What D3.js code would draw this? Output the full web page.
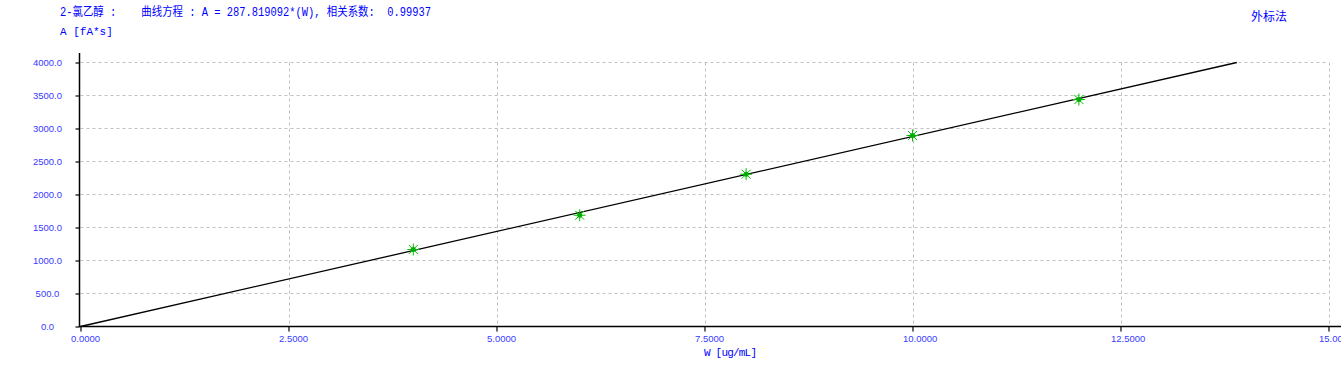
<!DOCTYPE html>
<html>
<head>
<meta charset="utf-8">
<script src="https://cdn.jsdelivr.net/npm/d3@7"></script>
<style>
  body { margin: 0; background: #fff; }
  svg { display: block; }
</style>
</head>
<body>
<script>
// calibration points
const amounts = [4, 6, 8, 10, 12];          // W [ug/mL]
const areas = [1167, 1686, 2308, 2894, 3439]; // A [fA*s]
const slope = 287.819092;
const xTicks = [0, 2.5, 5, 7.5, 10, 12.5, 15];
const yTicks = [0, 500, 1000, 1500, 2000, 2500, 3000, 3500, 4000];

const width = 1341, height = 366;
const blue = '#0000ff';
const mono = '"Liberation Mono", "DejaVu Sans Mono", "Noto Sans CJK SC", monospace';

const svg = d3.select('body').append('svg')
  .attr('width', width)
  .attr('height', height);

const x = d3.scaleLinear().domain([0, 15]).range([80.5, 1328.5]);
const y = d3.scaleLinear().domain([0, 4000]).range([326.5, 62.5]);

// dashed grid
svg.append('g')
  .selectAll('line')
  .data(xTicks.slice(1))
  .join('line')
  .attr('x1', d => Math.round(x(d)) + 0.5)
  .attr('x2', d => Math.round(x(d)) + 0.5)
  .attr('y1', y(4000))
  .attr('y2', y(0))
  .attr('stroke', '#c0c0c0')
  .attr('stroke-dasharray', '3,3');

svg.append('g')
  .selectAll('line')
  .data(yTicks.slice(1))
  .join('line')
  .attr('x1', x(0))
  .attr('x2', x(15))
  .attr('y1', d => y(d))
  .attr('y2', d => y(d))
  .attr('stroke', '#c0c0c0')
  .attr('stroke-dasharray', '3,3');

// Y axis
const yAxis = d3.axisLeft(y).tickValues(yTicks).tickSize(4).tickFormat(d3.format('.1f'));
const gy = svg.append('g')
  .attr('transform', 'translate(79.5,0)')
  .call(yAxis);
gy.select('.domain').remove();
gy.selectAll('.tick line').attr('stroke', '#000').attr('stroke-width', 1.2);
gy.selectAll('.tick text')
  .attr('x', -32)
  .attr('text-anchor', 'middle')
  .attr('fill', '#3a3aff')
  .style('font-family', '"Liberation Sans", Arial, sans-serif')
  .style('font-size', '9.5px');
svg.append('line')
  .attr('x1', 79.5).attr('x2', 79.5)
  .attr('y1', 53).attr('y2', 327)
  .attr('stroke', '#000').attr('stroke-width', 1.5);

// X axis
const xAxis = d3.axisBottom(x).tickValues(xTicks).tickSize(5).tickFormat(d3.format('.4f'));
const gx = svg.append('g')
  .attr('transform', 'translate(0,326.5)')
  .call(xAxis);
gx.select('.domain').remove();
gx.selectAll('.tick line').attr('stroke', '#000').attr('stroke-width', 1.2);
gx.selectAll('.tick text')
  .attr('x', -10)
  .attr('y', 9)
  .attr('dy', '0.71em')
  .attr('text-anchor', 'start')
  .attr('fill', '#3a3aff')
  .style('font-family', '"Liberation Sans", Arial, sans-serif')
  .style('font-size', '9.5px');
svg.append('line')
  .attr('x1', 79).attr('x2', width)
  .attr('y1', 326.5).attr('y2', 326.5)
  .attr('stroke', '#000').attr('stroke-width', 1.5);

// regression line A = slope * W
const xEnd = 4000 / slope;
svg.append('line')
  .attr('x1', x(0)).attr('y1', y(0))
  .attr('x2', x(xEnd)).attr('y2', y(slope * xEnd))
  .attr('stroke', '#000')
  .attr('stroke-width', 1.3);

// asterisk markers
const pts = amounts.map((w, i) => ({w: w, a: areas[i]}));
const marks = svg.append('g')
  .selectAll('g')
  .data(pts)
  .join('g')
  .attr('transform', d => `translate(${x(d.w)},${y(d.a)})`);
const r = 6;
[[-r, 0, r, 0], [0, -r, 0, r], [-r * 0.75, -r * 0.75, r * 0.75, r * 0.75], [-r * 0.75, r * 0.75, r * 0.75, -r * 0.75]]
  .forEach(s => {
    marks.append('line')
      .attr('x1', s[0]).attr('y1', s[1])
      .attr('x2', s[2]).attr('y2', s[3])
      .attr('stroke', '#00c000')
      .attr('stroke-width', 1);
  });
marks.append('circle').attr('r', 2.5).attr('fill', '#00b000');

// texts
svg.append('text')
  .attr('x', 60).attr('y', 16)
  .attr('fill', blue)
  .attr('textLength', 371)
  .attr('lengthAdjust', 'spacingAndGlyphs')
  .style('white-space', 'pre')
  .style('font-family', mono)
  .style('font-size', '12px')
  .text('2-氯乙醇 :    曲线方程 : A = 287.819092*(W), 相关系数:  0.99937');

svg.append('text')
  .attr('x', 60).attr('y', 35)
  .attr('fill', blue)
  .style('font-family', mono)
  .style('font-size', '11px')
  .text('A [fA*s]');

svg.append('text')
  .attr('x', 1251).attr('y', 21)
  .attr('fill', blue)
  .style('font-family', '"Noto Sans CJK SC", sans-serif')
  .style('font-size', '12px')
  .text('外标法');

svg.append('text')
  .attr('x', 704).attr('y', 356)
  .attr('fill', blue)
  .attr('textLength', 53)
  .style('font-family', mono)
  .style('font-size', '11px')
  .text('W [ug/mL]');
</script>
</body>
</html>
